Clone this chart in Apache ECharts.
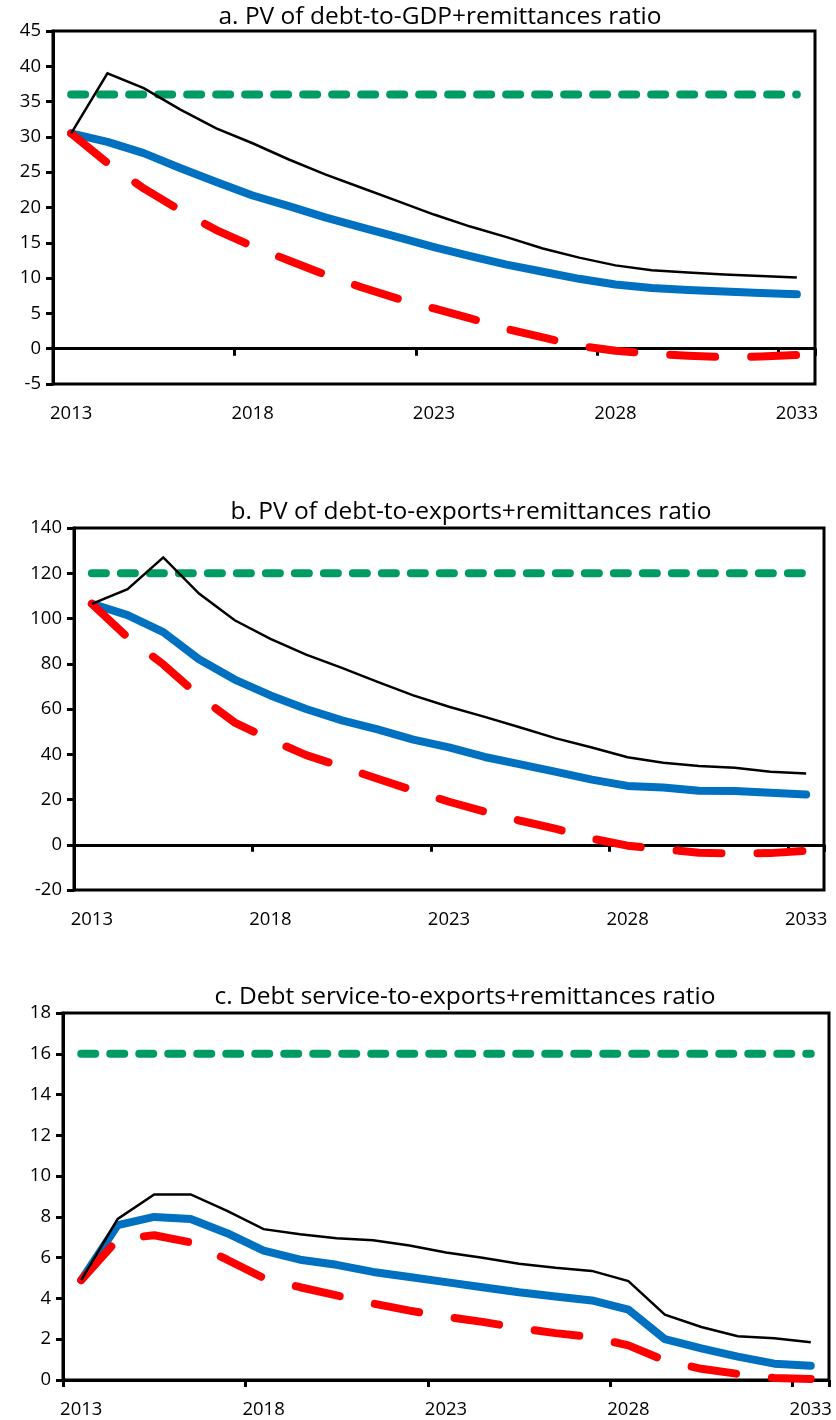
<!DOCTYPE html>
<html>
<head>
<meta charset="utf-8">
<script src="https://cdn.jsdelivr.net/npm/echarts@6/dist/echarts.min.js"></script>
<style>
  html, body { margin: 0; padding: 0; background: #fff; }
  #chart { width: 836px; height: 1420px; }
</style>
</head>
<body>
<div id="chart"></div>
<script>
// Projection years
const years = ['2013','2014','2015','2016','2017','2018','2019','2020','2021','2022','2023',
               '2024','2025','2026','2027','2028','2029','2030','2031','2032','2033'];

// a. PV of debt-to-GDP+remittances ratio
const gdpBaseline   = [30.5, 29.3, 27.7, 25.6, 23.6, 21.7, 20.2, 18.6, 17.2, 15.8, 14.4, 13.1, 11.9, 10.9, 9.9, 9.1, 8.6, 8.3, 8.1, 7.9, 7.7];
const gdpHistorical = [30.5, 26.3, 22.7, 19.6, 16.8, 14.5, 12.5, 10.5, 8.7, 7.1, 5.7, 4.3, 2.8, 1.6, 0.4, -0.3, -0.7, -1.0, -1.2, -1.1, -0.9];
const gdpShock      = [30.5, 39.0, 36.9, 33.9, 31.2, 29.1, 26.8, 24.7, 22.8, 20.9, 19.0, 17.3, 15.8, 14.2, 12.9, 11.8, 11.1, 10.8, 10.5, 10.3, 10.1];
const gdpThreshold  = [36, 36, 36, 36, 36, 36, 36, 36, 36, 36, 36, 36, 36, 36, 36, 36, 36, 36, 36, 36, 36];

// b. PV of debt-to-exports+remittances ratio
const expBaseline   = [106.5, 101.5, 94.0, 82.0, 73.0, 66.0, 60.0, 55.0, 51.0, 46.5, 43.0, 38.8, 35.5, 32.2, 28.8, 26.0, 25.3, 23.9, 23.8, 23.0, 22.2];
const expHistorical = [106.5, 91.7, 79.7, 65.8, 54.0, 46.5, 39.6, 34.5, 29.2, 24.0, 19.0, 14.6, 10.6, 7.0, 2.7, -0.4, -2.0, -3.5, -3.9, -3.7, -2.7];
const expShock      = [106.5, 113.0, 127.0, 111.0, 99.2, 91.0, 84.0, 78.2, 72.0, 66.0, 61.0, 56.5, 51.8, 47.0, 43.0, 38.7, 36.2, 34.8, 34.0, 32.3, 31.5];
const expThreshold  = [120, 120, 120, 120, 120, 120, 120, 120, 120, 120, 120, 120, 120, 120, 120, 120, 120, 120, 120, 120, 120];

// c. Debt service-to-exports+remittances ratio
const dsBaseline    = [4.9, 7.6, 8.0, 7.9, 7.2, 6.35, 5.9, 5.65, 5.3, 5.05, 4.8, 4.55, 4.3, 4.1, 3.9, 3.45, 2.0, 1.55, 1.15, 0.8, 0.7];
const dsHistorical  = [4.9, 6.9, 7.1, 6.75, 5.9, 5.0, 4.55, 4.15, 3.75, 3.4, 3.1, 2.85, 2.55, 2.3, 2.1, 1.7, 0.95, 0.55, 0.3, 0.1, 0.05];
const dsShock       = [4.9, 7.9, 9.1, 9.1, 8.3, 7.4, 7.15, 6.95, 6.85, 6.6, 6.25, 6.0, 5.7, 5.5, 5.35, 4.85, 3.2, 2.6, 2.15, 2.05, 1.85];
const dsThreshold   = [16, 16, 16, 16, 16, 16, 16, 16, 16, 16, 16, 16, 16, 16, 16, 16, 16, 16, 16, 16, 16];

// Panel titles and value-axis ranges
const titles = [
  'a. PV of debt-to-GDP+remittances ratio',
  'b. PV of debt-to-exports+remittances ratio',
  'c. Debt service-to-exports+remittances ratio'
];
const yMin = [-5, -20, 0];
const yMax = [45, 140, 18];
const yStep = [5, 20, 2];

const panels = [
  { baseline: gdpBaseline, historical: gdpHistorical, shock: gdpShock, threshold: gdpThreshold },
  { baseline: expBaseline, historical: expHistorical, shock: expShock, threshold: expThreshold },
  { baseline: dsBaseline,  historical: dsHistorical,  shock: dsShock,  threshold: dsThreshold }
];

// Layout of the three stacked plots
const FONT = '"Open Sans", "Noto Sans", sans-serif';
const LABEL_SIZE = 18.5;
const gridBoxes = [
  { left: 53, right: 21, top: 31,   height: 353 },
  { left: 74, right: 12, top: 528,  height: 362 },
  { left: 63, right: 7,  top: 1013, height: 367 }
];
const titlePos = [
  { x: 435, top: 0 },
  { x: 466, top: 495 },
  { x: 460, top: 980 }
];

const grid = [], xAxis = [], yAxis = [], series = [], title = [];

gridBoxes.forEach((g, i) => {
  grid.push(Object.assign({
    show: true, borderColor: '#000', borderWidth: 3, backgroundColor: 'transparent'
  }, g));

  title.push({
    text: titles[i], left: titlePos[i].x, top: titlePos[i].top, textAlign: 'center',
    textStyle: { fontFamily: FONT, fontSize: 24.5, fontWeight: 'normal', color: '#000' }
  });

  yAxis.push({
    gridIndex: i, type: 'value', min: yMin[i], max: yMax[i], interval: yStep[i],
    axisLine: { show: true, lineStyle: { color: '#000', width: 3 } },
    axisTick: { show: true, length: 7, lineStyle: { color: '#000', width: 3 } },
    splitLine: { show: false },
    axisLabel: { color: '#000', fontFamily: FONT, fontSize: LABEL_SIZE, margin: 12 }
  });
});

// Category axes drawn on the zero line (ticks every five years), one per panel
gridBoxes.forEach((g, i) => {
  xAxis.push({
    gridIndex: i, type: 'category', data: years, boundaryGap: true,
    axisLine: { show: true, onZero: true, lineStyle: { color: '#000', width: 3 } },
    axisTick: { show: true, interval: (idx) => idx % 5 === 0, length: 7, lineStyle: { color: '#000', width: 3 } },
    axisLabel: { show: false },
    splitLine: { show: false }
  });
});
// Year labels along the bottom edge of each panel
gridBoxes.forEach((g, i) => {
  xAxis.push({
    gridIndex: i, type: 'category', data: years, boundaryGap: true, position: 'bottom',
    axisLine: { show: false, onZero: false },
    axisTick: { show: false },
    axisLabel: { interval: 4, margin: 20, color: '#000', fontFamily: FONT, fontSize: LABEL_SIZE },
    splitLine: { show: false }
  });
});

panels.forEach((p, i) => {
  const base = { type: 'line', xAxisIndex: i, yAxisIndex: i, symbol: 'none', silent: true, animation: false };
  series.push(Object.assign({}, base, {
    name: 'Threshold', data: p.threshold, z: 3,
    lineStyle: { color: '#009B62', width: 8, type: [14, 15], cap: 'round' }
  }));
  series.push(Object.assign({}, base, {
    name: 'Baseline', data: p.baseline, z: 4,
    lineStyle: { color: '#0070C0', width: 8, cap: 'round', join: 'round' }
  }));
  series.push(Object.assign({}, base, {
    name: 'Historical scenario', data: p.historical, z: 5,
    lineStyle: { color: '#FF0000', width: 8, type: [45, 36], cap: 'round', join: 'round' }
  }));
  series.push(Object.assign({}, base, {
    name: 'Most extreme shock', data: p.shock, z: 6,
    lineStyle: { color: '#000', width: 2.5, join: 'miter' }
  }));
});

const chart = echarts.init(document.getElementById('chart'), null, { renderer: 'canvas' });
chart.setOption({
  animation: false,
  backgroundColor: '#fff',
  title, grid, xAxis, yAxis, series
});
</script>
</body>
</html>
